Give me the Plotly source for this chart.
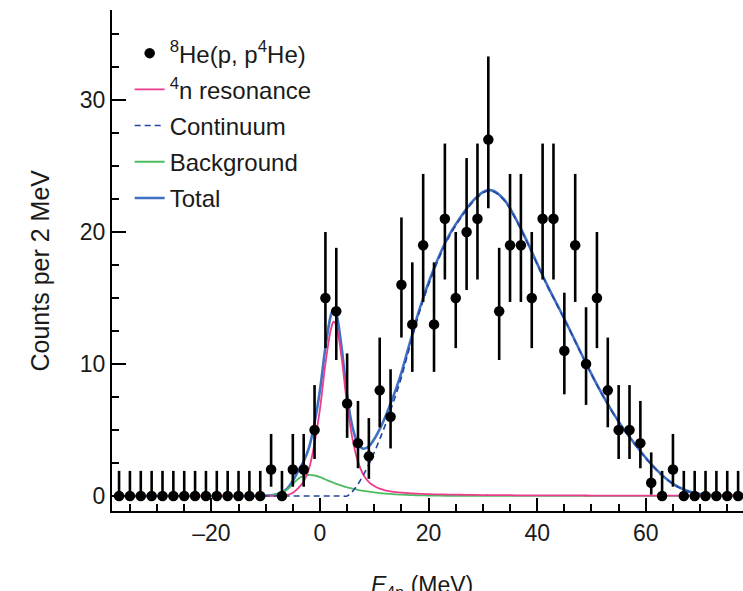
import plotly.graph_objects as go

# ---- data points (2 MeV bins) ----
E_data = [-37, -35, -33, -31, -29, -27, -25, -23, -21, -19, -17, -15, -13, -11,
          -9, -7, -5, -3, -1, 1, 3, 5, 7, 9, 11, 13, 15, 17, 19, 21, 23, 25, 27, 29,
          31, 33, 35, 37, 39, 41, 43, 45, 47, 49, 51, 53, 55, 57, 59, 61, 63, 65, 67,
          69, 71, 73, 75, 77]
counts = [0, 0, 0, 0, 0, 0, 0, 0, 0, 0, 0, 0, 0, 0,
          2, 0, 2, 2, 5, 15, 14, 7, 4, 3, 8, 6, 16, 13, 19, 13, 21, 15, 20, 21,
          27, 14, 19, 19, 15, 21, 21, 11, 19, 10, 15, 8, 5, 5, 4, 1, 0, 2, 0,
          0, 0, 0, 0, 0]
err_up = [1.9, 1.9, 1.9, 1.9, 1.9, 1.9, 1.9, 1.9, 1.9, 1.9, 1.9, 1.9, 1.9, 1.9,
          2.7, 1.9, 2.7, 2.7, 3.4, 5.0, 4.8, 3.8, 3.2, 2.9, 4.0, 3.6, 5.1, 4.7, 5.4,
          4.7, 5.7, 5.0, 5.6, 5.7, 6.3, 4.8, 5.4, 5.4, 5.0, 5.7, 5.7, 4.4, 5.4, 4.3,
          5.0, 4.0, 3.4, 3.4, 3.2, 2.3, 1.9, 2.7, 1.9, 1.9, 1.9, 1.9, 1.9, 1.9]
err_dn = [0, 0, 0, 0, 0, 0, 0, 0, 0, 0, 0, 0, 0, 0,
          1.3, 0, 1.3, 1.3, 2.2, 3.8, 3.7, 2.6, 1.9, 1.7, 2.8, 2.4, 4.0, 3.6, 4.3,
          3.6, 4.6, 3.8, 4.4, 4.6, 5.2, 3.7, 4.3, 4.3, 3.8, 4.6, 4.6, 3.3, 4.3, 3.1,
          3.8, 2.8, 2.2, 2.2, 1.9, 0.9, 0, 1.3, 0, 0, 0, 0, 0, 0]

# ---- fitted curves ----
E_curve = [-38, -34, -30, -26, -22, -18, -14, -12, -11, -10, -9, -8, -7, -6, -5, -4,
           -3, -2, -1, 0, 1, 2, 2.5, 3, 4, 5, 6, 7, 8, 9, 10, 11, 12, 13, 14, 15, 16,
           17, 18, 19, 20, 22, 24, 26, 28, 30, 31, 32, 34, 36, 38, 40, 42, 44, 46,
           48, 50, 52, 54, 56, 58, 60, 62, 64, 66, 68, 70, 72, 74, 78]
resonance = [0, 0, 0, 0, 0, 0, 0, 0, 0, 0, 0, 0, 0.02, 0.08, 0.25, 0.6,
             1.1, 2.1, 4.0, 6.6, 10.0, 12.6, 13.2, 12.9, 10.4, 6.9, 4.3, 2.6, 1.6, 1.05,
             0.75, 0.55, 0.43, 0.35, 0.29, 0.25, 0.22, 0.19, 0.17, 0.15, 0.14, 0.12,
             0.1, 0.09, 0.08, 0.07, 0.07, 0.06, 0.06, 0.05, 0.05, 0.05, 0.04, 0.04,
             0.04, 0.04, 0.03, 0.03, 0.03, 0.03, 0.03, 0.03, 0.03, 0.03, 0.03, 0.03,
             0.03, 0.03, 0.03, 0.03]
continuum = [0, 0, 0, 0, 0, 0, 0, 0, 0, 0, 0, 0, 0, 0, 0, 0,
             0, 0, 0, 0, 0, 0, 0, 0, 0, 0, 0.35, 0.9, 1.6, 2.4, 3.3, 4.3, 5.35, 6.5,
             7.7, 9.0, 10.5, 12.0, 13.5, 14.8, 16.0, 18.1, 19.8, 21.1, 22.2, 22.95,
             23.1, 23.05, 22.35, 21.0, 19.35, 17.55, 15.8, 14.2, 12.55, 10.85, 9.2,
             7.65, 6.25, 5.0, 3.9, 2.85, 1.95, 1.2, 0.65, 0.3, 0.12, 0.04, 0, 0]
background = [0, 0, 0, 0, 0, 0, 0, 0, 0, 0.02, 0.05, 0.12, 0.25, 0.5, 0.9, 1.3,
              1.52, 1.6, 1.55, 1.42, 1.25, 1.08, 1.0, 0.92, 0.78, 0.65, 0.55, 0.46,
              0.38, 0.32, 0.27, 0.22, 0.18, 0.15, 0.12, 0.1, 0.08, 0.06, 0.05, 0.04,
              0.03, 0.02, 0.01, 0, 0, 0, 0, 0, 0, 0, 0, 0, 0, 0, 0, 0, 0, 0, 0, 0,
              0, 0, 0, 0, 0, 0, 0, 0, 0, 0]
total = [0, 0, 0, 0, 0, 0, 0, 0, 0, 0.02, 0.05, 0.12, 0.27, 0.58, 1.15, 1.9,
         2.62, 3.7, 5.55, 8.02, 11.25, 13.68, 14.2, 13.82, 11.18, 7.55, 5.2, 3.96,
         3.58, 3.77, 4.32, 5.07, 5.96, 7.0, 8.11, 9.35, 10.8, 12.25, 13.72, 14.99,
         16.17, 18.24, 19.91, 21.19, 22.28, 23.02, 23.17, 23.11, 22.41, 21.05, 19.4,
         17.6, 15.84, 14.24, 12.59, 10.89, 9.23, 7.68, 6.28, 5.03, 3.93, 2.88, 1.98,
         1.23, 0.68, 0.33, 0.15, 0.07, 0.03, 0.03]

x_ticks = [-20, 0, 20, 40, 60]
x_labels = ["\u201320", "0", "20", "40", "60"]
y_ticks = [0, 10, 20, 30]

FONT = "Liberation Sans, Arial, Helvetica, sans-serif"
TXT = "#1a1a1a"

fig = go.Figure()
fig.add_trace(go.Scatter(x=E_curve, y=total, mode="lines", name="Total",
                         line=dict(color="#3f72c2", width=2.6, shape="spline"),
                         legendrank=5, legendgroup="g5"))
fig.add_trace(go.Scatter(x=E_curve, y=background, mode="lines", name="Background",
                         line=dict(color="#4dbb62", width=1.8, shape="spline"),
                         legendrank=4, legendgroup="g4"))
fig.add_trace(go.Scatter(x=E_curve, y=resonance, mode="lines", name="<sup>4</sup>n resonance",
                         line=dict(color="#ec3d8c", width=1.8, shape="spline"),
                         legendrank=2, legendgroup="g2"))
fig.add_trace(go.Scatter(x=E_curve, y=continuum, mode="lines", name="Continuum",
                         line=dict(color="#2346a0", width=1.6, dash="6px,4px", shape="spline"),
                         legendrank=3, legendgroup="g3"))
fig.add_trace(go.Scatter(x=E_data, y=counts, mode="markers", name="<sup>8</sup>He(p, p<sup>4</sup>He)",
                         marker=dict(color="black", size=10.5),
                         error_y=dict(type="data", symmetric=False, array=err_up,
                                      arrayminus=err_dn, thickness=2.6, width=0, color="black"),
                         legendrank=1, legendgroup="g1"))

fig.update_layout(
    width=743, height=591,
    margin=dict(l=112, r=0, t=10, b=80),
    paper_bgcolor="white", plot_bgcolor="white",
    font=dict(family=FONT, size=22, color=TXT),
    showlegend=True,
    legend=dict(x=0.028, y=0.958, xanchor="left", yanchor="top",
                bgcolor="rgba(0,0,0,0)", font=dict(family=FONT, size=24, color=TXT),
                itemwidth=30, tracegroupgap=2),
)
fig.update_xaxes(range=[-38.3, 77.9], tickvals=x_ticks, ticktext=x_labels,
                 ticks="inside", ticklen=13, tickwidth=2, tickcolor="black",
                 showline=True, linewidth=2, linecolor="black", mirror=False,
                 showgrid=False, zeroline=False,
                 minor=dict(dtick=5, tick0=0, ticks="inside", ticklen=7, tickwidth=2,
                            tickcolor="black", showgrid=False),
                 tickfont=dict(family=FONT, size=23, color=TXT))
fig.update_yaxes(range=[-1.14, 36.82], tickvals=y_ticks,
                 ticks="inside", ticklen=14, tickwidth=2, tickcolor="black",
                 showline=True, linewidth=2, linecolor="black",
                 showgrid=False, zeroline=False,
                 minor=dict(dtick=2.5, tick0=0, ticks="inside", ticklen=7, tickwidth=2,
                            tickcolor="black", showgrid=False),
                 tickfont=dict(family=FONT, size=23, color=TXT))

fig.add_annotation(text="Counts per 2 MeV", xref="paper", yref="paper",
                   x=0, y=0.48, xshift=-88, textangle=-90, showarrow=False,
                   font=dict(family=FONT, size=25, color=TXT))
fig.add_annotation(text="<i>E</i><sub>4n</sub> (MeV)", xref="paper", yref="paper",
                   x=0.5, y=0, xshift=-6, yshift=-59, yanchor="top", showarrow=False,
                   font=dict(family=FONT, size=23, color=TXT))

fig.write_html("out.html")
